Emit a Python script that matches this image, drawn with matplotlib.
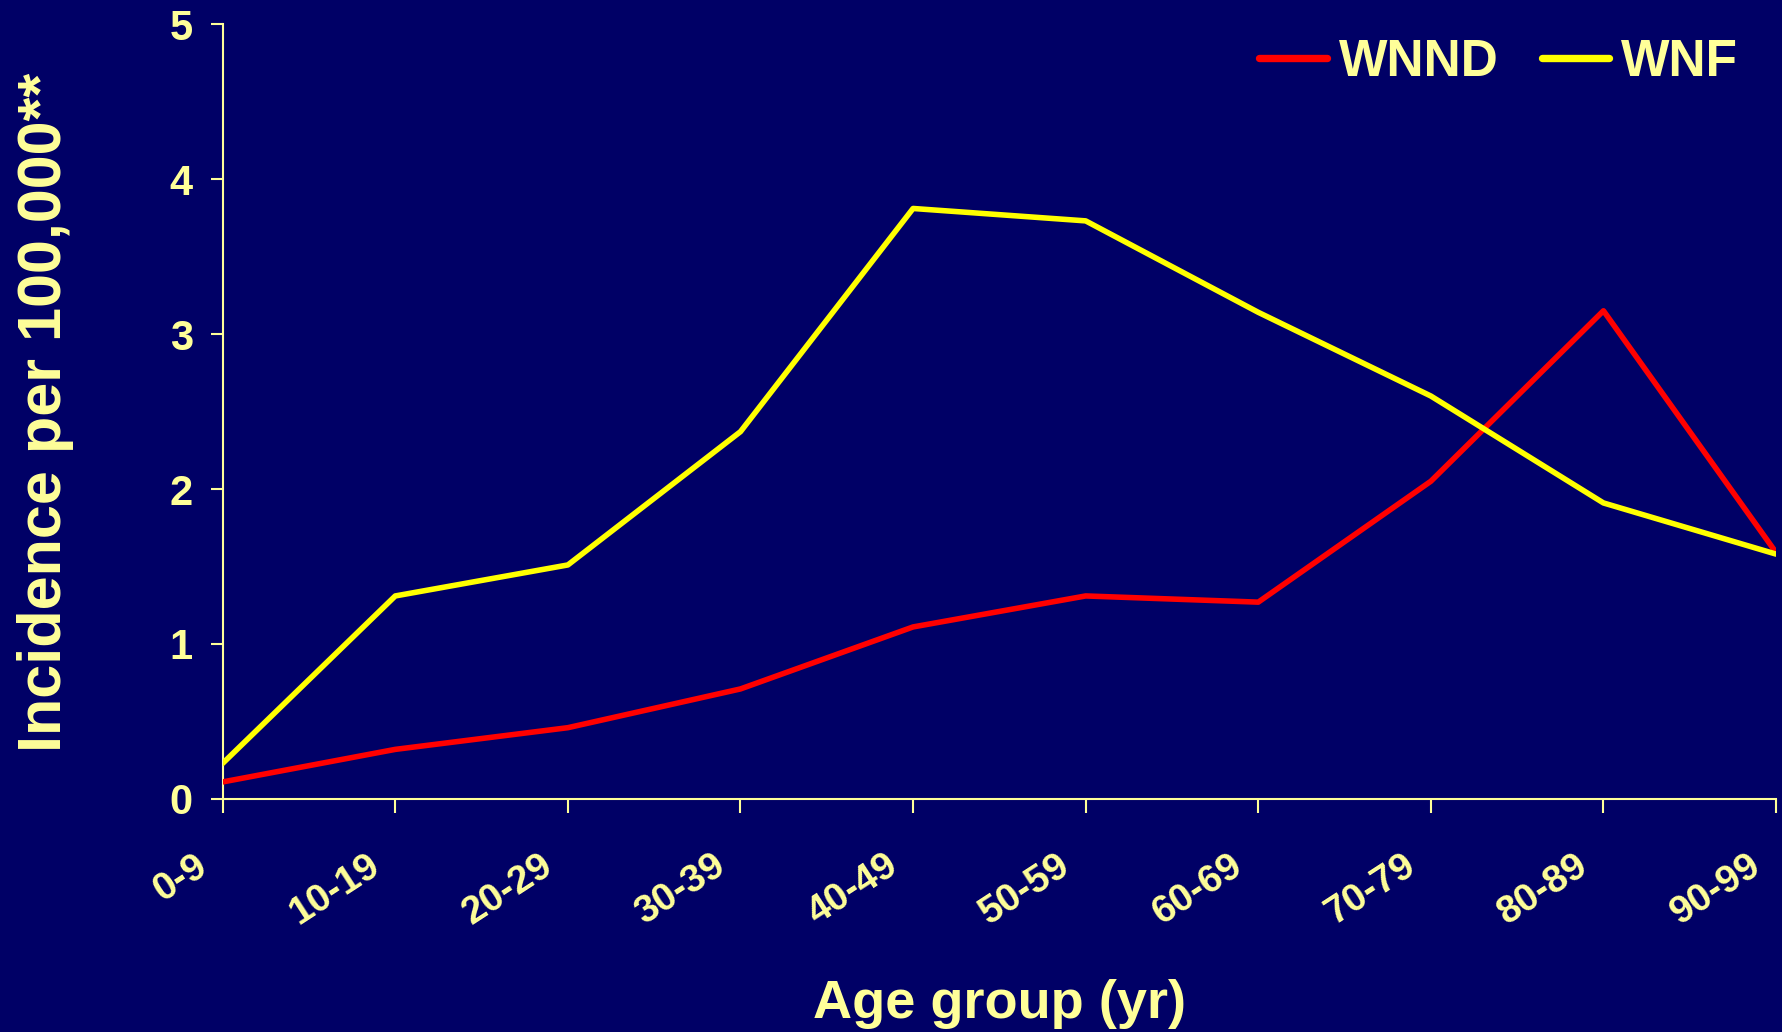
import matplotlib
matplotlib.use("Agg")
import matplotlib.pyplot as plt
from matplotlib.transforms import ScaledTranslation

age_groups = ["0-9", "10-19", "20-29", "30-39", "40-49", "50-59", "60-69", "70-79", "80-89", "90-99"]
wnnd = [0.11, 0.32, 0.46, 0.71, 1.11, 1.31, 1.27, 2.05, 3.15, 1.59]
wnf = [0.23, 1.31, 1.51, 2.37, 3.81, 3.73, 3.14, 2.60, 1.91, 1.58]
y_ticks = [0, 1, 2, 3, 4, 5]

plt.rcParams["font.family"] = ["Liberation Sans", "DejaVu Sans"]
plt.rcParams["font.weight"] = "bold"

BG = "#000066"
TXT = "#FFFF99"

fig = plt.figure(figsize=(17.83, 10.32), dpi=100, facecolor=BG)
ax = fig.add_axes([0.1249, 0.2258, 0.9961 - 0.1249, 0.9767 - 0.2258])
ax.set_facecolor(BG)

x = list(range(len(age_groups)))
ax.plot(x, wnnd, color="#FF0000", lw=4.0, label="WNND", solid_capstyle="round", zorder=3)
ax.plot(x, wnf, color="#FFFF00", lw=4.0, label="WNF", solid_capstyle="round", zorder=3)

ax.set_xlim(0, len(age_groups) - 1)
ax.set_ylim(0, 5)
ax.set_xticks(x)
ax.set_xticklabels(age_groups, rotation=33, ha="right", va="top", fontsize=28,
                   color=TXT, fontweight="bold")
ax.set_yticks(y_ticks)
ax.set_yticklabels([str(v) for v in y_ticks], fontsize=30, color=TXT, fontweight="bold")
ax.tick_params(axis="x", length=10, width=1.5, color=TXT, pad=25, direction="out")
ax.tick_params(axis="y", length=8.6, width=1.5, color=TXT, pad=13, direction="out")

shift = ScaledTranslation(-9 / 100, 0, fig.dpi_scale_trans)
for lab in ax.get_xticklabels():
    lab.set_transform(lab.get_transform() + shift)

for s in ["top", "right"]:
    ax.spines[s].set_visible(False)
for s in ["left", "bottom"]:
    ax.spines[s].set_color(TXT)
    ax.spines[s].set_linewidth(1.5)

fig.text(1000 / 1783, 1 - 1018 / 1032, "Age group (yr)", ha="center", va="baseline",
         fontsize=39, color=TXT, fontweight="bold")
fig.text(46 / 1783, 1 - 412 / 1032, "Incidence per 100,000**", ha="center", va="center",
         rotation=90, fontsize=44, color=TXT, fontweight="bold")

leg = ax.legend(loc="center left", bbox_to_anchor=(1259 / 1783, 1 - 62 / 1032),
                bbox_transform=fig.transFigure, ncol=2, frameon=False,
                fontsize=37, handlelength=1.32, handletextpad=0.23,
                columnspacing=0.84, borderpad=0, borderaxespad=0)
for t in leg.get_texts():
    t.set_color(TXT)
    t.set_fontweight("bold")
for h in leg.get_lines():
    h.set_linewidth(5.3)

fig.savefig("out.png", dpi=100, facecolor=BG)
